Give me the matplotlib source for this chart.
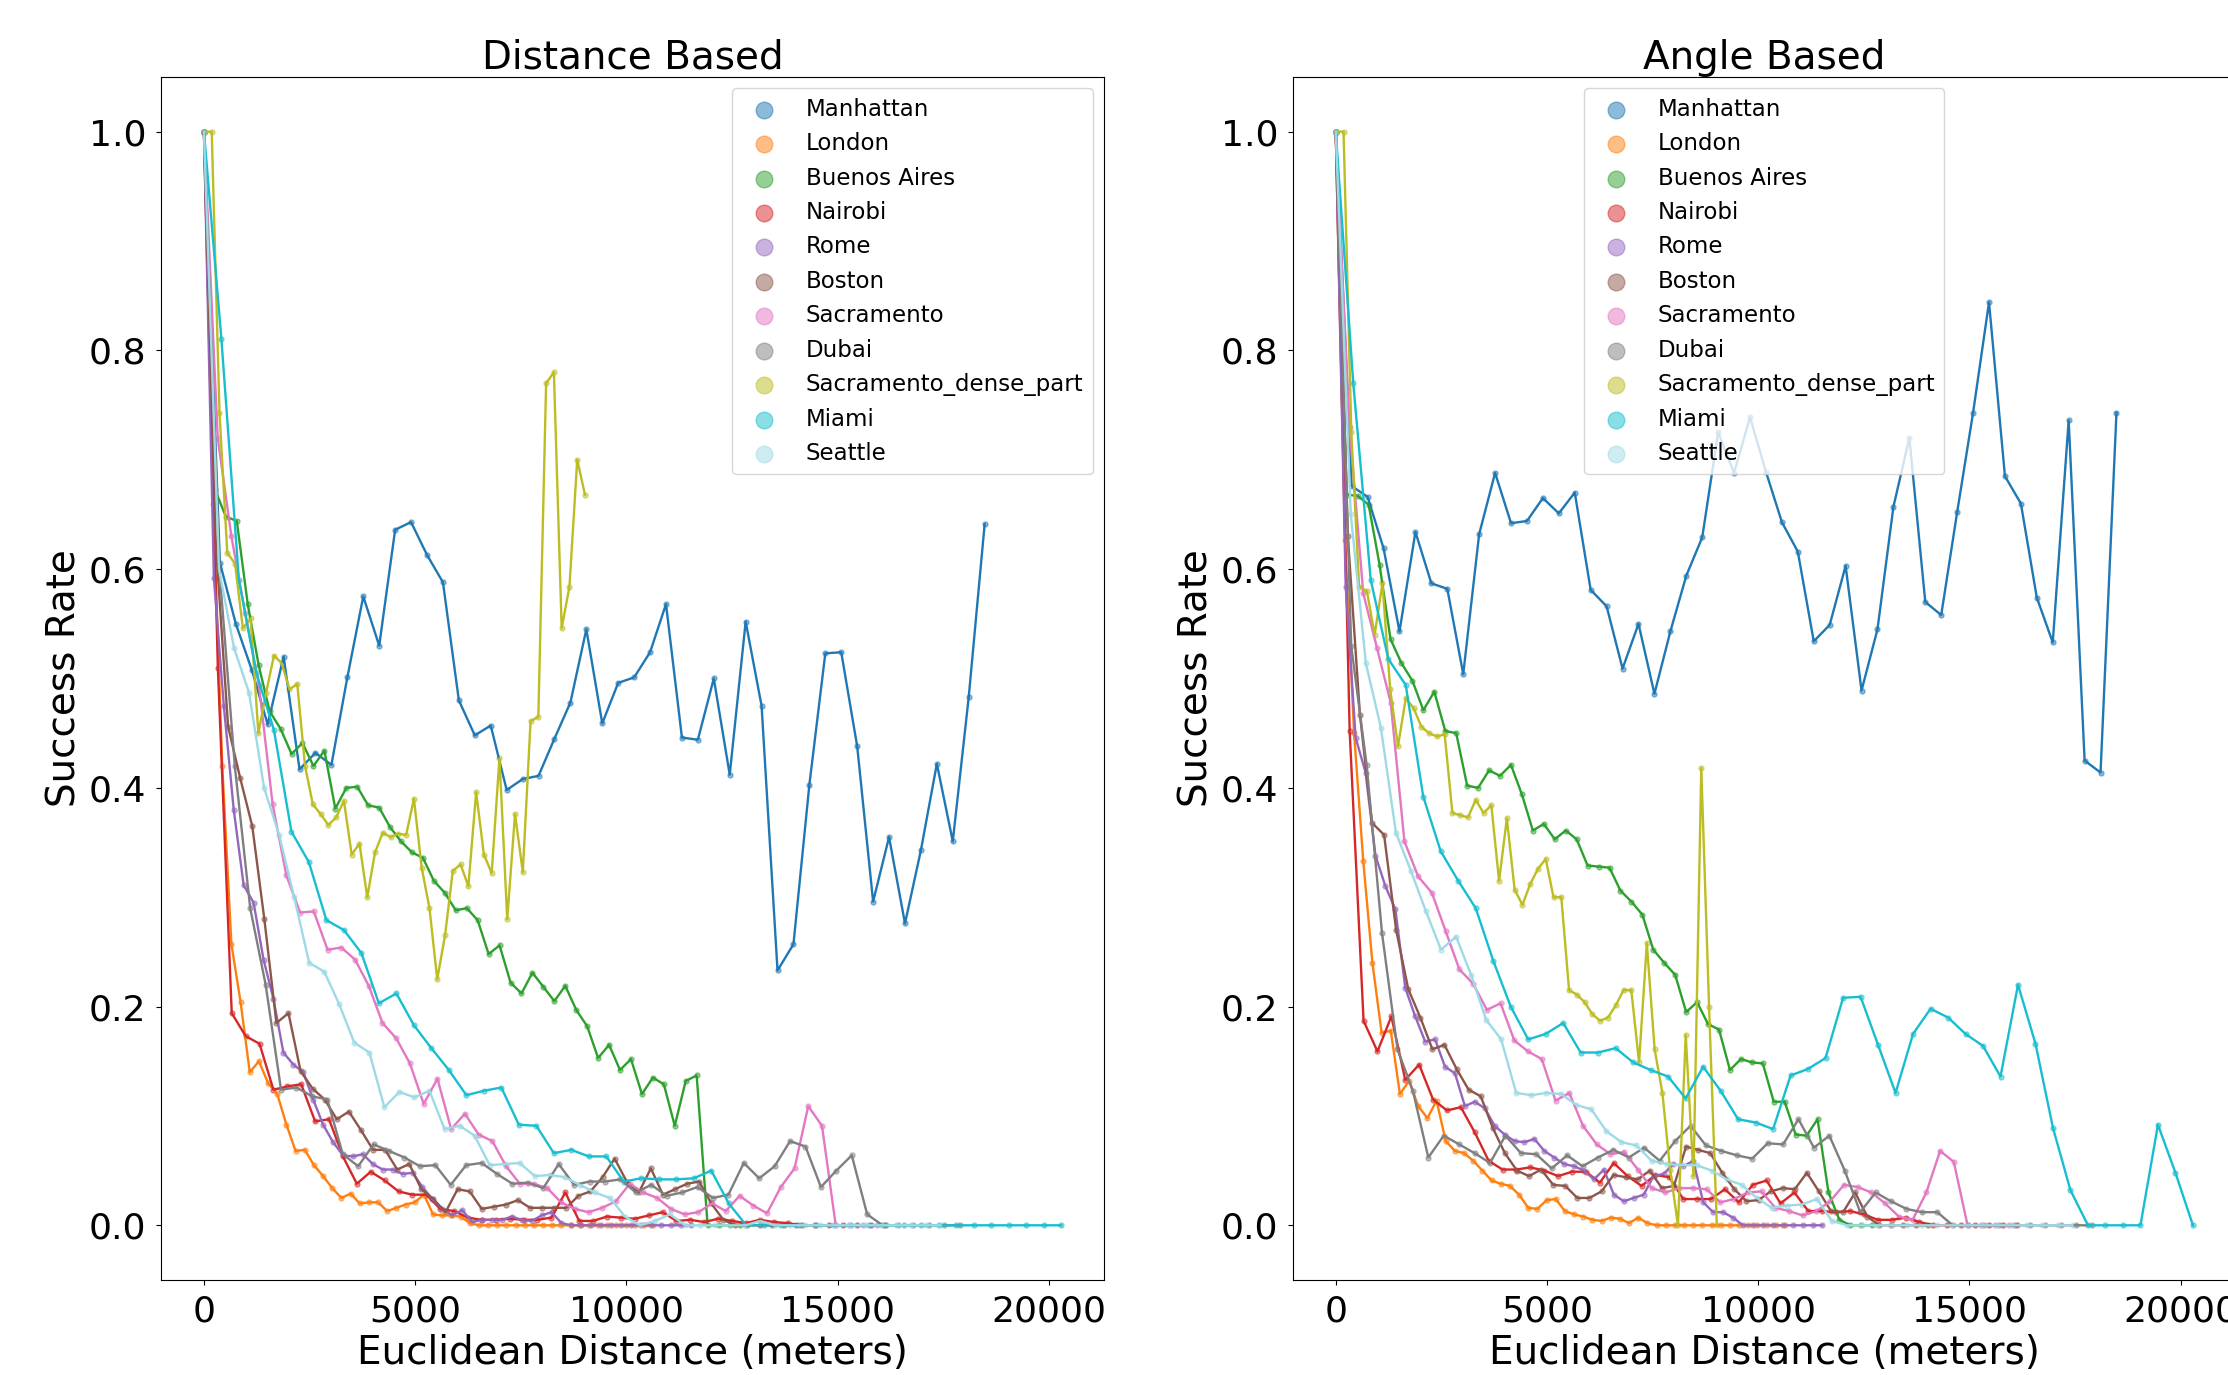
import numpy as np
import matplotlib
matplotlib.use("Agg")
import matplotlib.pyplot as plt

CITIES = ["Manhattan", "London", "Buenos Aires", "Nairobi", "Rome", "Boston",
          "Sacramento", "Dubai", "Sacramento_dense_part", "Miami", "Seattle"]
COLORS = ["#1f77b4", "#ff7f0e", "#2ca02c", "#d62728", "#9467bd", "#8c564b",
          "#e377c2", "#7f7f7f", "#bcbd22", "#17becf", "#9edae5"]
# farthest distance bin per city (meters), bins evenly spaced from 0
MAX_DIST = [18480, 10630, 12700, 16120, 11520, 14010, 15930, 17890, 9020, 20290, 17440]

# ── Distance based success rate per bin ──
MANHATTAN_D = [1.0, 0.606, 0.55, 0.508, 0.458, 0.52, 0.417, 0.432, 0.421, 0.501,
               0.575, 0.53, 0.636, 0.643, 0.613, 0.588, 0.48, 0.448, 0.457, 0.398,
               0.408, 0.411, 0.445, 0.478, 0.545, 0.459, 0.496, 0.501, 0.524, 0.568,
               0.446, 0.444, 0.50, 0.412, 0.552, 0.475, 0.233, 0.257, 0.403, 0.523,
               0.524, 0.438, 0.296, 0.355, 0.276, 0.343, 0.422, 0.351, 0.483, 0.641]
LONDON_D = [1.0, 0.66, 0.42, 0.257, 0.204, 0.14, 0.15, 0.13, 0.12, 0.092,
            0.068, 0.069, 0.055, 0.045, 0.034, 0.025, 0.029, 0.02, 0.021, 0.021,
            0.013, 0.016, 0.019, 0.021, 0.028, 0.01, 0.009, 0.009, 0.008, 0.002,
            0.0, 0.0, 0.0, 0.0, 0.0, 0.0, 0.0, 0.0, 0.0, 0.0,
            0.0, 0.0, 0.0, 0.0, 0.0, 0.0, 0.0, 0.0, 0.0, 0.0]
BUENOS_D = [1.0, 0.673, 0.648, 0.644, 0.568, 0.512, 0.47, 0.454, 0.431, 0.441,
            0.42, 0.434, 0.381, 0.40, 0.401, 0.384, 0.382, 0.364, 0.351, 0.341,
            0.336, 0.315, 0.304, 0.288, 0.29, 0.279, 0.248, 0.256, 0.222, 0.212,
            0.231, 0.218, 0.205, 0.219, 0.197, 0.182, 0.153, 0.165, 0.142, 0.152,
            0.12, 0.135, 0.129, 0.091, 0.132, 0.137, 0.0, 0.0, 0.0, 0.0]
NAIROBI_D = [1.0, 0.51, 0.194, 0.173, 0.166, 0.124, 0.127, 0.129, 0.095, 0.097,
             0.063, 0.038, 0.049, 0.041, 0.031, 0.028, 0.028, 0.015, 0.013, 0.007,
             0.005, 0.005, 0.006, 0.005, 0.005, 0.007, 0.03, 0.004, 0.004, 0.008,
             0.007, 0.006, 0.009, 0.012, 0.004, 0.005, 0.003, 0.006, 0.004, 0.002,
             0.005, 0.003, 0.002, 0.0, 0.0, 0.0, 0.0, 0.0, 0.0, 0.0]
ROME_D = [1.0, 0.592, 0.475, 0.38, 0.311, 0.295, 0.243, 0.207, 0.158, 0.147,
          0.14, 0.115, 0.092, 0.076, 0.064, 0.063, 0.065, 0.056, 0.051, 0.051,
          0.047, 0.048, 0.035, 0.024, 0.015, 0.009, 0.014, 0.003, 0.005, 0.005,
          0.005, 0.008, 0.005, 0.004, 0.009, 0.012, 0.002, 0.0, 0.0, 0.0,
          0.0, 0.0, 0.0, 0.0, 0.0, 0.0, 0.0, 0.0, 0.0, 0.0]
BOSTON_D = [1.0, 0.62, 0.456, 0.409, 0.365, 0.28, 0.185, 0.194, 0.141, 0.125,
            0.115, 0.097, 0.104, 0.087, 0.069, 0.069, 0.051, 0.056, 0.033, 0.024,
            0.012, 0.033, 0.031, 0.015, 0.017, 0.019, 0.023, 0.016, 0.016, 0.016,
            0.016, 0.027, 0.031, 0.044, 0.061, 0.04, 0.03, 0.052, 0.028, 0.033,
            0.038, 0.04, 0.02, 0.005, 0.0, 0.0, 0.0, 0.0, 0.0, 0.0]
SACRAMENTO_D = [1.0, 0.72, 0.63, 0.56, 0.494, 0.385, 0.32, 0.286, 0.287, 0.252,
                0.254, 0.243, 0.219, 0.185, 0.171, 0.148, 0.111, 0.134, 0.088, 0.102,
                0.083, 0.077, 0.054, 0.038, 0.038, 0.034, 0.021, 0.015, 0.012, 0.016,
                0.022, 0.038, 0.03, 0.025, 0.015, 0.01, 0.012, 0.02, 0.013, 0.027,
                0.018, 0.011, 0.035, 0.052, 0.109, 0.091, 0.0, 0.0, 0.0, 0.0]
DUBAI_D = [1.0, 0.6, 0.42, 0.29, 0.22, 0.124, 0.126, 0.118, 0.115, 0.065,
           0.054, 0.074, 0.068, 0.062, 0.054, 0.055, 0.037, 0.055, 0.057, 0.047,
           0.038, 0.039, 0.034, 0.056, 0.037, 0.04, 0.04, 0.042, 0.03, 0.037,
           0.027, 0.03, 0.035, 0.025, 0.028, 0.057, 0.043, 0.054, 0.077, 0.072,
           0.035, 0.05, 0.064, 0.01, 0.0, 0.0, 0.0, 0.0, 0.0, 0.0]
SAC_DENSE_D = [1.0, 1.0, 0.743, 0.615, 0.605, 0.546, 0.555, 0.45, 0.487, 0.521,
               0.514, 0.49, 0.495, 0.42, 0.385, 0.376, 0.366, 0.373, 0.388, 0.339,
               0.349, 0.30, 0.341, 0.359, 0.355, 0.358, 0.357, 0.39, 0.327, 0.29,
               0.225, 0.265, 0.324, 0.33, 0.31, 0.396, 0.339, 0.322, 0.427, 0.28,
               0.376, 0.323, 0.461, 0.465, 0.77, 0.78, 0.546, 0.584, 0.70, 0.668]
MIAMI_D = [1.0, 0.81, 0.59, 0.505, 0.453, 0.36, 0.332, 0.279, 0.27, 0.249,
           0.203, 0.212, 0.183, 0.162, 0.142, 0.119, 0.123, 0.126, 0.092, 0.091,
           0.066, 0.069, 0.063, 0.063, 0.04, 0.043, 0.042, 0.042, 0.043, 0.05,
           0.02, 0.0, 0.0, 0.0, 0.0, 0.0, 0.0, 0.0, 0.0, 0.0,
           0.0, 0.0, 0.0, 0.0, 0.0, 0.0, 0.0, 0.0, 0.0, 0.0]
SEATTLE_D = [1.0, 0.60, 0.528, 0.487, 0.40, 0.357, 0.30, 0.240, 0.232, 0.202,
             0.167, 0.158, 0.108, 0.122, 0.117, 0.123, 0.088, 0.091, 0.082, 0.055,
             0.056, 0.057, 0.045, 0.046, 0.044, 0.037, 0.03, 0.025, 0.008, 0.0,
             0.004, 0.01, 0.0, 0.0, 0.0, 0.0, 0.0, 0.004, 0.0, 0.0,
             0.0, 0.0, 0.0, 0.0, 0.0, 0.0, 0.0, 0.0, 0.0, 0.0]

# ── Angle based success rate per bin ──
MANHATTAN_A = [1.0, 0.676, 0.666, 0.619, 0.543, 0.634, 0.587, 0.582, 0.504, 0.632,
               0.688, 0.642, 0.644, 0.665, 0.651, 0.67, 0.581, 0.566, 0.509, 0.55,
               0.486, 0.543, 0.594, 0.629, 0.725, 0.688, 0.739, 0.689, 0.643, 0.616,
               0.534, 0.549, 0.603, 0.489, 0.545, 0.657, 0.72, 0.57, 0.558, 0.652,
               0.743, 0.844, 0.685, 0.66, 0.574, 0.533, 0.736, 0.425, 0.414, 0.743]
LONDON_A = [1.0, 0.627, 0.45, 0.333, 0.24, 0.176, 0.178, 0.12, 0.132, 0.109,
            0.098, 0.114, 0.077, 0.068, 0.066, 0.059, 0.05, 0.041, 0.038, 0.036,
            0.028, 0.016, 0.015, 0.023, 0.024, 0.013, 0.01, 0.008, 0.005, 0.004,
            0.007, 0.006, 0.002, 0.007, 0.002, 0.0, 0.0, 0.0, 0.0, 0.0,
            0.0, 0.0, 0.0, 0.0, 0.0, 0.0, 0.0, 0.0, 0.0, 0.0]
BUENOS_A = [1.0, 0.668, 0.667, 0.659, 0.604, 0.536, 0.514, 0.498, 0.471, 0.488,
            0.452, 0.45, 0.402, 0.40, 0.416, 0.411, 0.421, 0.394, 0.361, 0.367,
            0.353, 0.361, 0.353, 0.329, 0.328, 0.327, 0.306, 0.296, 0.284, 0.252,
            0.24, 0.229, 0.195, 0.204, 0.184, 0.179, 0.142, 0.152, 0.149, 0.148,
            0.113, 0.113, 0.083, 0.082, 0.097, 0.03, 0.005, 0.0, 0.0, 0.0]
NAIROBI_A = [1.0, 0.452, 0.187, 0.159, 0.191, 0.133, 0.147, 0.115, 0.105, 0.108,
             0.085, 0.059, 0.051, 0.051, 0.053, 0.05, 0.045, 0.049, 0.049, 0.039,
             0.057, 0.045, 0.036, 0.046, 0.044, 0.024, 0.024, 0.024, 0.033, 0.021,
             0.037, 0.041, 0.02, 0.03, 0.013, 0.013, 0.012, 0.013, 0.01, 0.005,
             0.005, 0.007, 0.003, 0.0, 0.0, 0.0, 0.0, 0.0, 0.0, 0.0]
ROME_A = [1.0, 0.584, 0.446, 0.414, 0.338, 0.31, 0.289, 0.217, 0.191, 0.168,
          0.17, 0.145, 0.139, 0.109, 0.113, 0.107, 0.091, 0.083, 0.077, 0.076,
          0.079, 0.068, 0.062, 0.056, 0.054, 0.05, 0.042, 0.051, 0.028, 0.022,
          0.025, 0.028, 0.045, 0.047, 0.056, 0.054, 0.059, 0.021, 0.012, 0.012,
          0.007, 0.0, 0.0, 0.0, 0.0, 0.0, 0.0, 0.0, 0.0, 0.0]
BOSTON_A = [1.0, 0.63, 0.467, 0.368, 0.357, 0.27, 0.216, 0.19, 0.161, 0.165,
            0.143, 0.124, 0.118, 0.089, 0.066, 0.05, 0.045, 0.051, 0.037, 0.036,
            0.025, 0.025, 0.031, 0.046, 0.044, 0.042, 0.05, 0.034, 0.036, 0.072,
            0.069, 0.066, 0.048, 0.033, 0.022, 0.023, 0.031, 0.034, 0.033, 0.048,
            0.031, 0.013, 0.012, 0.03, 0.008, 0.0, 0.0, 0.0, 0.0, 0.0]
SACRAMENTO_A = [1.0, 0.73, 0.578, 0.528, 0.478, 0.351, 0.319, 0.304, 0.269, 0.234,
                0.221, 0.197, 0.203, 0.169, 0.159, 0.152, 0.114, 0.121, 0.091, 0.074,
                0.065, 0.067, 0.051, 0.034, 0.03, 0.034, 0.034, 0.033, 0.021, 0.024,
                0.03, 0.031, 0.016, 0.013, 0.009, 0.013, 0.022, 0.037, 0.035, 0.03,
                0.02, 0.008, 0.005, 0.03, 0.068, 0.058, 0.0, 0.0, 0.0, 0.0]
DUBAI_A = [1.0, 0.53, 0.421, 0.267, 0.161, 0.123, 0.062, 0.082, 0.074, 0.066,
           0.057, 0.082, 0.066, 0.065, 0.052, 0.064, 0.054, 0.062, 0.069, 0.062,
           0.071, 0.059, 0.077, 0.091, 0.073, 0.068, 0.064, 0.061, 0.075, 0.074,
           0.097, 0.071, 0.082, 0.05, 0.012, 0.03, 0.022, 0.015, 0.012, 0.012,
           0.0, 0.0, 0.0, 0.0, 0.0, 0.0, 0.0, 0.0, 0.0, 0.0]
SAC_DENSE_A = [1.0, 1.0, 0.725, 0.584, 0.58, 0.54, 0.587, 0.49, 0.438, 0.482,
               0.473, 0.456, 0.45, 0.447, 0.449, 0.377, 0.375, 0.373, 0.389, 0.377,
               0.384, 0.315, 0.372, 0.307, 0.293, 0.312, 0.326, 0.335, 0.30, 0.30,
               0.215, 0.211, 0.204, 0.193, 0.187, 0.19, 0.201, 0.215, 0.215, 0.149,
               0.258, 0.161, 0.121, 0.051, 0.0, 0.174, 0.045, 0.418, 0.2, 0.0]
MIAMI_A = [1.0, 0.77, 0.59, 0.518, 0.494, 0.392, 0.342, 0.315, 0.29, 0.242,
           0.2, 0.17, 0.175, 0.185, 0.158, 0.158, 0.162, 0.149, 0.142, 0.136,
           0.116, 0.145, 0.123, 0.097, 0.094, 0.088, 0.137, 0.143, 0.153, 0.208,
           0.209, 0.165, 0.121, 0.175, 0.198, 0.19, 0.175, 0.164, 0.136, 0.22,
           0.166, 0.089, 0.032, 0.0, 0.0, 0.0, 0.0, 0.092, 0.048, 0.0]
SEATTLE_A = [1.0, 0.65, 0.514, 0.455, 0.359, 0.324, 0.287, 0.252, 0.264, 0.229,
             0.188, 0.17, 0.121, 0.119, 0.121, 0.12, 0.11, 0.106, 0.086, 0.076,
             0.073, 0.059, 0.056, 0.055, 0.055, 0.05, 0.042, 0.037, 0.025, 0.016,
             0.018, 0.019, 0.024, 0.004, 0.0, 0.0, 0.0, 0.0, 0.0, 0.0,
             0.0, 0.0, 0.0, 0.0, 0.0, 0.0, 0.0, 0.0, 0.0, 0.0]

DISTANCE_BASED = [MANHATTAN_D, LONDON_D, BUENOS_D, NAIROBI_D, ROME_D, BOSTON_D,
                  SACRAMENTO_D, DUBAI_D, SAC_DENSE_D, MIAMI_D, SEATTLE_D]
ANGLE_BASED = [MANHATTAN_A, LONDON_A, BUENOS_A, NAIROBI_A, ROME_A, BOSTON_A,
               SACRAMENTO_A, DUBAI_A, SAC_DENSE_A, MIAMI_A, SEATTLE_A]


fig = plt.figure(figsize=(22.28, 13.75), dpi=100)
ax_d = fig.add_axes([0.0723, 0.0691, 0.4232, 0.8749])
ax_a = fig.add_axes([0.5803, 0.0691, 0.4232, 0.8749])

for ax, series, title, loc in ((ax_d, DISTANCE_BASED, "Distance Based", "upper right"),
                               (ax_a, ANGLE_BASED, "Angle Based", "upper center")):
    for city, color, dmax, vals in zip(CITIES, COLORS, MAX_DIST, series):
        x = np.linspace(0, dmax, len(vals))
        ax.plot(x, vals, color=color, linewidth=1.7)
        ax.scatter(x, vals, color=color, alpha=0.5, s=13, label=city)
    ax.set_title(title, fontsize=28)
    ax.set_xlabel("Euclidean Distance (meters)", fontsize=28)
    ax.set_ylabel("Success Rate", fontsize=28)
    ax.set_xticks([0, 5000, 10000, 15000, 20000])
    ax.tick_params(labelsize=26, pad=7)
    ax.legend(loc=loc, fontsize=16.5, markerscale=3.33)

fig.savefig("out.png", dpi=100)
